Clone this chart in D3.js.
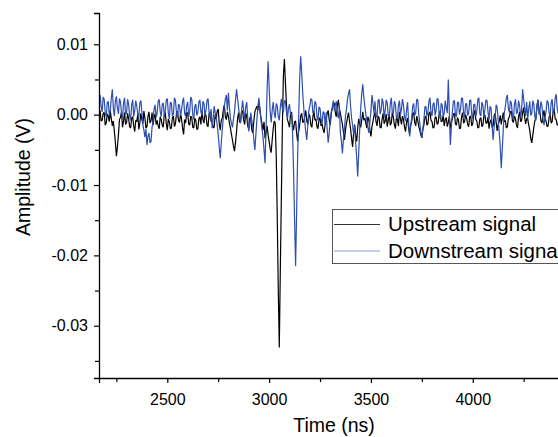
<!DOCTYPE html>
<html>
<head>
<meta charset="utf-8">
<script src="https://cdn.jsdelivr.net/npm/d3@7"></script>
<style>
  body { margin: 0; background: #fff; }
  svg { display: block; font-family: "Liberation Sans", Arial, sans-serif; }
</style>
</head>
<body>
<svg width="558" height="437"></svg>
<script>
// sample times: first sample and spacing (ns)
const tStart = 2170;
const tStep = 5;

// upstream signal, mV, one row = 100 ns
const upstream = [
  0.6, -0.9, -0.8, 0.2, 0.3, -1.5, -1.2, 0.1, -0.2, -1.0, 0.5, -0.6, -1.6, -0.9, -2.4, -4.0, -5.9, -4.6, -2.8, -0.7,
  -0.4, 0.4, -1.8, -0.9, 0.3, -1.4, -1.1, 0.2, -0.6, -1.7, -1.9, -0.5, -0.3, -1.6, -2.4, -0.8, -1.0, 0.1, -2.1, -1.2,
  0.2, -0.7, -1.3, 0.5, -0.5, -1.9, -1.7, -0.2, 0.4, -1.2, -0.9, 0.3, -1.5, -0.4, 0.1, -1.4, -0.8, -1.6, -2.0, -0.3,
  -0.7, -1.5, -1.8, 0.0, 0.3, -1.3, -2.2, -0.6, -1.0, -2.0, -1.9, -0.4, -0.2, -1.7, -1.3, 0.2, 0.5, -0.8, -1.1, 0.1,
  -0.6, -1.9, -2.8, -0.7, -1.2, 0.3, 0.2, -1.3, -1.5, -0.2, -0.4, -1.8, -1.9, -0.5, -0.8, -2.1, -2.0, -0.6, -0.3, -1.4,
  0.6, -0.7, -1.2, 0.2, -0.1, -1.5, -1.7, 0.1, 0.4, -1.0, -0.9, -1.9, -1.8, 0.0, -0.6, 0.5, 0.8, -1.3, -2.2, -0.8,
  -0.5, 0.6, 1.4, -0.3, -0.7, 0.4, -0.2, -1.2, -1.9, -2.8, -3.6, -4.5, -5.2, -3.9, -2.4, -0.6, 0.3, -1.1, -0.9, 0.5,
  0.5, -0.8, -1.4, 0.2, -0.3, -1.6, -2.1, -0.4, -0.8, -2.2, -2.6, -0.9, 0.4, 0.8, 1.2, 0.6, 1.9, 0.7, -0.5, -1.3,
  -2.2, -1.0, -3.4, -2.5, -1.6, -2.9, -3.8, -4.8, -5.4, -3.6, -2.0, -0.9, -1.2, -6.0, -14.5, -25.0, -33.1, -22.0, -12.0, -2.0,
  5.5, 7.9, 4.6, 1.5, -0.7, -1.2, -1.8, 0.0, 0.4, -1.4, -2.2, -1.0, -0.9, -2.6, -3.8, -2.4, -1.5, -0.2, 0.2, -1.1,
  -1.0, -0.2, 0.6, -0.9, -1.4, 0.1, -0.2, -1.5, -1.8, -0.3, 0.5, -0.8, -0.6, -1.7, -2.0, -0.7, -0.4, -1.6, -1.3, -2.1,
  -2.6, -1.4, -0.8, 0.2, 0.6, -0.7, -1.5, 0.1, 0.9, 1.4, 1.7, 0.3, -0.3, 1.2, 2.1, 0.9, 0.2, -0.6, -1.4, -2.5,
  -3.6, -2.2, -1.2, -0.4, 0.3, -1.0, -2.0, -3.4, -4.6, -2.6, -1.4, -2.9, -3.8, -1.9, -0.6, -1.4, -1.8, -0.7, 0.4, -0.8,
  -0.5, -1.2, -1.9, -0.3, -0.8, -2.2, -3.1, -1.7, -1.0, -0.1, 0.3, -1.0, -1.6, -0.2, -0.4, -1.8, -1.9, -0.6, 0.2, -1.3,
  -0.9, 0.1, -1.7, -0.8, 0.1, -1.5, -1.2, 0.3, -0.3, -1.4, -2.0, -0.5, -0.6, -1.6, 0.4, -0.6, -1.4, -0.2, -0.7, -1.8,
  -2.4, -1.0, -0.5, -1.9, -2.8, -1.6, -1.0, 0.1, 0.3, -1.1, -1.6, -0.2, -0.8, -1.7, -2.2, -2.9, -3.3, -2.1, -1.5, -0.4,
  -0.2, -1.5, -1.3, 0.2, 0.4, -0.8, -1.0, -1.9, -1.8, -0.4, -0.3, -1.4, -1.2, 0.0, 0.5, -1.0, -0.9, -0.1, -1.6, -0.7,
  -0.4, -1.7, -1.1, -0.2, -2.0, -1.1, -0.6, 0.1, 0.2, -1.3, -1.5, -0.4, -0.8, -2.0, -1.9, -0.3, 0.3, -1.2, -1.0, 0.0,
  -0.5, -1.4, -1.7, -0.3, -0.2, -1.6, -1.3, 0.1, 0.6, -0.7, -0.9, -1.9, -1.8, -0.6, -0.4, -1.7, -1.5, 0.0, -0.1, -1.2,
  -1.2, -0.3, -2.0, -1.0, -0.7, -1.8, -1.6, -0.2, 0.2, -1.1, -2.3, -1.4, -0.9, -0.1, -1.4, -0.5, 0.3, -1.0, -0.8, -1.9,
  -1.7, -0.6, -0.3, 0.4, 0.5, -0.9, -1.1, -0.2, -0.6, -1.5, -1.9, -0.3, 0.4, -1.0, -0.8, 0.3, 1.0, -0.4, -1.3, -0.5,
  -0.6, -1.5, -2.2, -3.4, -4.0, -2.9, -1.8, -0.9, -0.5, 1.0, 2.1, 0.8, 0.3, -0.9, -1.2, -0.1, 0.6, -0.6, -0.9, -1.7,
  -1.6, -0.4, 0.2, -1.2, -1.0, 0.5, 0.8, -0.6, -0.7, -1.5, -1.4, -0.1, 0.4, -0.9, -0.5, 0.2, -1.1, -0.3, 0.3
];

// downstream signal, mV, same sample times
const downstream = [
  2.8, 1.2, 0.4, 2.5, 2.2, 0.3, -0.3, 1.7, 1.9, -0.1, 0.6, 2.4, 3.6, 0.8, -0.2, 2.0, 2.6, 0.9, 0.1, 2.3,
  1.8, 0.2, -0.5, 1.6, 2.4, 0.0, 0.3, 2.2, 1.5, -0.2, -0.8, 1.4, 2.1, -0.3, 0.6, 2.0, 1.2, 0.1, -0.4, 1.7,
  2.0, 0.4, -1.5, -2.2, -3.2, -2.0, -4.3, -3.1, -2.6, -4.0, -3.8, -1.8, -0.9, 0.8, 1.4, -0.4, 0.2, 1.9, 2.2, 0.5,
  -0.3, 1.4, 1.7, -0.1, 0.5, 2.1, 2.3, 0.2, -0.6, 1.8, 1.6, -0.2, 0.1, 2.4, 2.0, 0.3, -0.4, 1.5, 1.3, -0.2,
  0.7, 1.9, 2.4, 0.1, -0.2, 1.3, 1.8, -0.3, 0.4, 2.5, 2.2, 0.0, -0.7, 1.2, 1.5, -0.1, 0.3, 1.8, 2.1, 0.4,
  -0.1, 1.9, 1.6, -0.2, 0.6, 2.0, 2.3, 0.4, -0.5, 0.8, -1.9, -0.6, 1.2, 0.3, -0.4, -1.5, -2.8, -4.6, -6.2, -4.0,
  -2.1, -0.4, 1.2, 2.2, 2.8, 0.6, 3.1, 1.0, -0.5, -1.2, -1.8, -0.6, 0.4, 2.1, 3.6, 2.3, 1.0, -0.3, -1.2, 0.7,
  2.0, 0.5, -0.6, 1.1, 1.8, -0.5, -2.4, -1.0, 0.3, -0.9, -1.8, -3.6, -5.0, -2.8, -0.7, 1.2, 2.4, 0.6, -0.8, -2.0,
  -3.2, -5.0, -6.9, -2.0, 3.5, 7.6, 4.0, 0.5, -1.1, 0.6, 1.8, 0.2, -0.5, 1.6, 1.2, -0.3, -0.8, 1.0, 2.2, 0.8,
  0.3, 2.0, 1.9, 0.4, -0.6, 0.9, 1.5, 0.0, 0.2, -2.5, -8.0, -15.0, -21.5, -14.0, -6.0, -0.5, 5.0, 8.3, 6.0, 3.0,
  1.0, -1.0, -2.5, -3.6, -1.5, 0.6, 1.2, 2.3, 2.1, 0.2, 0.4, 1.9, 1.6, -0.3, -0.8, 1.1, 0.9, -0.6, -1.4, 0.4,
  0.3, -1.4, 0.3, -2.0, -4.0, -2.6, -1.0, 0.4, 1.0, 2.0, 0.6, 1.4, 1.9, 0.2, -0.5, 1.0, -2.6, -3.8, -5.5, -3.5,
  -2.0, -0.2, 0.8, 2.2, 3.0, 3.6, 1.2, -0.5, -1.5, -2.8, -1.6, -4.0, -6.0, -8.8, -5.5, -2.0, 1.0, 3.0, 4.3, 2.5,
  1.2, 0.0, -0.8, -1.8, -2.6, -1.0, 0.5, 2.8, 1.6, 0.2, 1.9, -0.2, -0.4, 2.0, 2.2, 0.1, 0.6, 2.3, 1.7, -0.4,
  0.6, 2.1, 1.7, -0.2, -0.3, 1.5, 2.4, 0.2, 0.1, 1.9, 1.5, -0.4, -0.6, 1.3, 2.0, 0.0, 0.8, 2.2, 1.3, -0.3,
  -0.9, 0.7, 1.8, -1.0, -3.1, -1.6, -0.5, 1.2, 1.6, -0.1, 0.3, 2.2, 2.1, 0.0, -1.2, -2.4, -3.3, -2.0, -0.8, 1.1,
  1.2, -0.2, 0.4, 1.9, 2.4, 0.3, -0.2, 1.5, 1.7, -0.1, 0.6, 2.3, 2.2, 0.1, -0.5, 1.6, 1.4, -0.3, 0.2, 2.0,
  1.0, 0.2, 5.0, 0.5, -4.3, -1.8, 0.4, 1.9, 2.0, -0.1, -0.3, 1.7, 1.8, 0.0, 0.7, 2.4, 2.3, 0.3, -0.4, 1.5,
  1.6, -0.1, 0.2, 2.0, 2.1, 0.0, -0.6, 1.4, 1.5, -0.3, 0.5, 2.2, 2.4, 0.1, -0.2, 1.8, 1.3, -0.4, 0.8, 2.1,
  2.0, 0.4, -0.7, 1.2, 0.9, -1.5, -3.6, -1.8, -0.4, 1.4, 1.0, -0.8, -2.5, -4.5, -7.6, -5.0, -2.0, 0.2, 1.1, 2.3,
  2.8, 0.9, 0.3, 2.0, 1.6, -0.2, -0.5, 1.5, 2.2, 0.1, 0.4, 2.0, 1.3, -0.3, 0.6, 3.6, 2.2, 1.0, -0.2, 1.8,
  -0.6, 0.8, 1.9, -0.1, 0.2, 2.0, 1.5, -0.3, -0.8, 1.2, 2.1, 0.0, 0.5, 1.9, 1.2, -0.6, -1.5, -0.4, 0.4, 2.0,
  1.8, 0.3, -0.3, 1.7, 2.2, 0.2, 0.6, 2.4, 2.9, 0.8, 0.1, 1.9, 1.6, -0.2, -0.5, 1.5, 2.0, 0.3, 0.7
];

const xMajor = [2500, 3000, 3500, 4000];
const xMinor = [2250, 2750, 3250, 3750, 4250];
const yMajor = [0.01, 0.00, -0.01, -0.02, -0.03];
const yLabels = ['0.01', '0.00', '-0.01', '-0.02', '-0.03'];
const yMinor = [0.005, -0.005, -0.015, -0.025, -0.035];

const seriesNames = ['Upstream signal', 'Downstream signal'];
const seriesColors = ['#000000', '#2c4fb0'];

const svg = d3.select('svg');

const x = d3.scaleLinear().domain([2164.5, 4460]).range([99, 566.4]);
const y = d3.scaleLinear().domain([-0.03743, 0.01445]).range([378, 13]);

// mV -> V
const toPoints = arr => arr.map((v, i) => ({ t: tStart + i * tStep, v: v / 1000 }));

const line = d3.line()
    .x(d => x(d.t))
    .y(d => y(d.v));

const plot = svg.append('g');
[upstream, downstream].forEach((s, k) => {
    plot.append('path')
        .datum(toPoints(s))
        .attr('fill', 'none')
        .attr('stroke', seriesColors[k])
        .attr('stroke-width', 1.2)
        .attr('stroke-linejoin', 'bevel')
        .attr('d', line);
});

// x axis
const xAxis = svg.append('g').attr('transform', 'translate(0,378)');
xAxis.call(d3.axisBottom(x).tickValues(xMajor).tickSize(5).tickPadding(11).tickFormat(d3.format('d')));
xAxis.append('g').call(d3.axisBottom(x).tickValues(xMinor).tickSize(4).tickFormat(''))
    .select('.domain').remove();

// y axis
const yAxis = svg.append('g').attr('transform', 'translate(99,0)');
yAxis.call(d3.axisLeft(y).tickValues(yMajor).tickSize(5).tickPadding(6)
    .tickFormat((d, i) => yLabels[i]));
yAxis.append('g').call(d3.axisLeft(y).tickValues(yMinor).tickSize(4).tickFormat(''))
    .select('.domain').remove();

svg.selectAll('.domain').attr('stroke', '#000').attr('stroke-width', 1.3);
svg.selectAll('.tick line').attr('stroke', '#000').attr('stroke-width', 1.2);
svg.selectAll('.tick text')
    .attr('fill', '#000')
    .style('font-size', '16px')
    .style('font-family', '"Liberation Sans", Arial, sans-serif');

// axis titles
svg.append('text')
    .attr('x', 334)
    .attr('y', 432)
    .attr('text-anchor', 'middle')
    .style('font-size', '19.5px')
    .text('Time (ns)');

svg.append('text')
    .attr('transform', 'translate(30,177) rotate(-90)')
    .attr('text-anchor', 'middle')
    .style('font-size', '19.5px')
    .text('Amplitude (V)');

// legend, its right part runs past the picture edge as in the source figure
const legend = svg.append('g');
legend.append('rect')
    .attr('x', 332.5).attr('y', 209.5)
    .attr('width', 300).attr('height', 54)
    .attr('fill', '#fff')
    .attr('stroke', '#555')
    .attr('stroke-width', 1);

seriesNames.forEach((name, k) => {
    const ly = 224.5 + k * 26.5;
    legend.append('line')
        .attr('x1', 334).attr('x2', 380)
        .attr('y1', ly).attr('y2', ly)
        .attr('stroke', k === 0 ? '#333' : '#8b9bd8')
        .attr('stroke-width', 1);
    legend.append('text')
        .attr('x', 388)
        .attr('y', ly + 6.5)
        .style('font-size', '20.5px')
        .text(name);
});
</script>
</body>
</html>
